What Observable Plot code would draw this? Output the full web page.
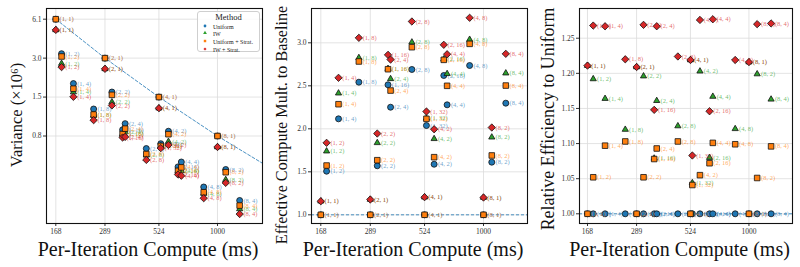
<!DOCTYPE html>
<html>
<head>
<meta charset="utf-8">
<script src="https://cdn.jsdelivr.net/npm/d3@7"></script>
<script src="https://cdn.jsdelivr.net/npm/@observablehq/plot@0.6"></script>
<style>
  body { margin: 0; background: #fff; }
  #fig { position: relative; width: 800px; height: 267px; overflow: hidden; font-family: "Liberation Serif", "Times New Roman", serif; }
  #fig > svg { position: absolute; top: 0; }
  .legend { position: absolute; box-sizing: border-box; border: 1px solid #cfcfcf; border-radius: 3px; background: rgba(255,255,255,0.85); font-family: "Liberation Serif", serif; color: #222; }
  .legend .title { text-align: center; font-size: 8.5px; line-height: 9px; margin-top: 1px; }
  .legend .item { position: absolute; left: 0; font-size: 6px; line-height: 6px; white-space: nowrap; }
  .legend svg { position: absolute; }
</style>
</head>
<body>
<div id="fig"></div>
<script>
// Training configurations (a, b) and their per-iteration compute in ms
const configA = [1, 1, 1, 1, 1, 1, 2, 2, 2, 2, 2, 4, 4, 4, 4, 8, 8, 8];
const configB = [1, 2, 4, 8, 16, 32, 1, 2, 4, 8, 16, 1, 2, 4, 8, 1, 2, 4];
const computeMs = [168, 179, 204, 255, 351, 535, 289, 312, 361, 456, 647, 524, 582, 671, 859, 1000, 1095, 1277];

const methods = ["Uniform", "IW", "Uniform + Strat.", "IW + Strat."];
const methodColors = ["#1f77b4", "#2ca02c", "#ff7f0e", "#d62728"];
const methodSymbols = ["circle", "triangle", "square", "diamond2"];
const methodRadius = [3.0, 2.3, 3.15, 3.3];

// Variance (x10^6)
const varUniform      = [6.10, 3.30, 1.94, 1.233, 0.852, 0.665, 3.05, 1.668, 0.950, 0.610, 0.440, 1.525, 0.830, 0.480, 0.3075, 0.7625, 0.420, 0.242];
const varIW           = [5.04, 2.77, 1.667, 1.101, 0.790, 0.638, 2.52, 1.395, 0.818, 0.542, 0.407, 1.251, 0.690, 0.411, 0.274, 0.627, 0.350, 0.208];
const varUniformStrat = [6.10, 3.14, 1.77, 1.118, 0.790, 0.639, 3.05, 1.586, 0.869, 0.553, 0.410, 1.525, 0.787, 0.436, 0.280, 0.7625, 0.400, 0.221];
const varIWStrat      = [5.04, 2.60, 1.531, 1.011, 0.742, 0.614, 2.52, 1.314, 0.750, 0.498, 0.384, 1.251, 0.650, 0.376, 0.252, 0.627, 0.331, 0.190];

// Baseline scaling of variance with compute (dashed reference)
const baselineCompute  = [168, 289, 524, 1000, 1640];
const baselineVariance = [6.10, 3.05, 1.525, 0.7625, 0.47];

// Effective compute multiplier relative to the baseline
const multUniform      = [1.00, 1.507, 2.116, 2.542, 2.512, 2.038, 1.00, 1.570, 2.251, 2.690, 2.620, 1.00, 1.588, 2.279, 2.736, 1.00, 1.612, 2.298];
const multIW           = [1.158, 1.740, 2.414, 2.826, 2.700, 2.122, 1.178, 1.837, 2.581, 3.007, 2.810, 1.205, 1.884, 2.640, 3.038, 1.201, 1.902, 2.647];
const multUniformStrat = [1.00, 1.573, 2.286, 2.783, 2.693, 2.116, 1.00, 1.635, 2.445, 2.949, 2.802, 1.00, 1.670, 2.500, 2.988, 1.00, 1.690, 2.503];
const multIWStrat      = [1.158, 1.837, 2.593, 3.058, 2.860, 2.201, 1.178, 1.945, 2.805, 3.248, 2.977, 1.205, 1.995, 2.867, 3.291, 1.201, 2.015, 2.872];

// Efficiency relative to uniform sampling
const effUniform      = [1, 1, 1, 1, 1, 1, 1, 1, 1, 1, 1, 1, 1, 1, 1, 1, 1, 1];
const effIW           = [1.211, 1.192, 1.164, 1.120, 1.079, 1.044, 1.209, 1.196, 1.161, 1.125, 1.080, 1.219, 1.203, 1.167, 1.121, 1.216, 1.199, 1.163];
const effUniformStrat = [1.00, 1.052, 1.097, 1.103, 1.078, 1.041, 1.00, 1.052, 1.093, 1.103, 1.072, 1.00, 1.055, 1.101, 1.099, 1.00, 1.051, 1.096];
const effIWStrat      = [1.211, 1.268, 1.267, 1.220, 1.148, 1.083, 1.209, 1.269, 1.267, 1.224, 1.146, 1.219, 1.276, 1.277, 1.219, 1.216, 1.270, 1.271];

// Axis ticks
const xTicks = [168, 289, 524, 1000];
const xTickLabels = ["168", "289", "524", "1000"];
const varTicks = [6.1, 3.05, 1.525, 0.7625];
const varTickLabels = ["6.1", "3.0", "1.5", "0.8"];
const multTicks = [1.0, 1.5, 2.0, 2.5, 3.0];
const multTickLabels = ["1.0", "1.5", "2.0", "2.5", "3.0"];
const effTicks = [1.00, 1.05, 1.10, 1.15, 1.20, 1.25];
const effTickLabels = ["1.00", "1.05", "1.10", "1.15", "1.20", "1.25"];

const xTitle = "Per-Iteration Compute (ms)";

function toRows(series) {
  const out = [];
  series.forEach((vals, k) => {
    vals.forEach((v, i) => out.push({
      k, compute: computeMs[i], value: v, label: `(${configA[i]}, ${configB[i]})`
    }));
  });
  return out;
}

// Tick label lookup: the nearest listed tick (relative distance)
function labeler(ticks, labels) {
  return (v) => {
    let best = 0, bestErr = Infinity;
    ticks.forEach((t, i) => {
      const err = Math.abs(t - v) / Math.abs(t);
      if (err < bestErr) { bestErr = err; best = i; }
    });
    return bestErr < 1e-3 ? labels[best] : "";
  };
}

function panel({left, width, marginLeft, marginRight, xDomain, yType, yDomain, yTicks, yTickLabels, series, yTitle, yTitleSize, yTitleDx, yTitleDy, extra}) {
  const data = toRows(series);
  const marks = [
    Plot.ruleX(xTicks, {stroke: "#dcdcdc", strokeWidth: 0.8}),
    Plot.ruleY(yTicks, {stroke: "#dcdcdc", strokeWidth: 0.8}),
    ...extra
  ];
  methods.forEach((m, k) => {
    const rows = data.filter((d) => d.k === k);
    marks.push(Plot.dot(rows, {
      x: "compute", y: "value", symbol: () => methodSymbols[k], r: methodRadius[k],
      fill: methodColors[k], stroke: "#111", strokeWidth: 0.8
    }));
    marks.push(Plot.text(rows, {
      x: "compute", y: "value", text: "label", dx: 3.8, textAnchor: "start",
      fill: methodColors[k], fillOpacity: 0.7, fontSize: 6.5
    }));
  });
  marks.push(Plot.frame({stroke: "#111", strokeWidth: 1.1}));
  // y tick labels
  marks.push(Plot.text(yTicks, {
    y: (d) => d, frameAnchor: "left", dx: -5, textAnchor: "end",
    text: (d, i) => yTickLabels[i], fontSize: 7.5, fill: "#333"
  }));
  marks.push(Plot.text([xTitle], {
    text: (d) => d, frameAnchor: "bottom", dy: 32, dx: -6.5, lineAnchor: "bottom",
    textAnchor: "middle", fontSize: 20, fill: "#111"
  }));
  marks.push(Plot.text([yTitle], {
    text: (d) => d, frameAnchor: "left", rotate: -90, dx: yTitleDx, dy: yTitleDy, lineAnchor: "middle",
    textAnchor: "middle", fontSize: yTitleSize, fill: "#111"
  }));
  const svg = Plot.plot({
    width, height: 267,
    marginLeft, marginRight, marginTop: 8, marginBottom: 44,
    style: {fontFamily: "Liberation Serif, serif", fontSize: "7.5px", color: "#333", background: "transparent", overflow: "visible"},
    x: {type: "log", domain: xDomain, ticks: xTicks, tickFormat: labeler(xTicks, xTickLabels), tickSize: 3, tickPadding: 2, label: null},
    y: {type: yType, domain: yDomain, ticks: yTicks, tickFormat: () => "", tickSize: 3, tickPadding: 2, label: null},
    marks
  });
  svg.style.left = left + "px";
  return svg;
}

const fig = document.getElementById("fig");

fig.appendChild(panel({
  left: 0, width: 266, marginLeft: 46, marginRight: 4,
  xDomain: [151.6, 1643], yType: "log", yDomain: [0.1606, 7.38],
  yTicks: varTicks, yTickLabels: varTickLabels,
  series: [varUniform, varIW, varUniformStrat, varIWStrat],
  yTitle: "Variance (×10⁶)", yTitleSize: 16.5, yTitleDx: -30, yTitleDy: -1,
  extra: [Plot.line(baselineCompute.map((c, i) => ({c, v: baselineVariance[i]})), {
    x: "c", y: "v", stroke: "#1f77b4", strokeWidth: 1, strokeOpacity: 0.8, strokeDasharray: "3,2"
  })]
}));

fig.appendChild(panel({
  left: 265, width: 265, marginLeft: 46, marginRight: 3,
  xDomain: [151.7, 1620], yType: "linear", yDomain: [0.899, 3.399],
  yTicks: multTicks, yTickLabels: multTickLabels,
  series: [multUniform, multIW, multUniformStrat, multIWStrat],
  yTitle: "Effective Compute Mult. to Baseline", yTitleSize: 16.2, yTitleDx: -29.7, yTitleDy: 9,
  extra: [Plot.ruleY([1], {stroke: "#1f77b4", strokeWidth: 1, strokeOpacity: 0.8, strokeDasharray: "3,2"})]
}));

fig.appendChild(panel({
  left: 530, width: 270, marginLeft: 49, marginRight: 8,
  xDomain: [153.8, 1618], yType: "linear", yDomain: [0.9862, 1.2923],
  yTicks: effTicks, yTickLabels: effTickLabels,
  series: [effUniform, effIW, effUniformStrat, effIWStrat],
  yTitle: "Relative Efficiency to Uniform", yTitleSize: 17.9, yTitleDx: -31, yTitleDy: 3,
  extra: [Plot.ruleY([1], {stroke: "#1f77b4", strokeWidth: 1, strokeOpacity: 0.8, strokeDasharray: "3,2"})]
}));

// Legend for the methods
const legend = document.createElement("div");
legend.className = "legend";
Object.assign(legend.style, {left: "197px", top: "11px", width: "63px", height: "41px"});
const title = document.createElement("div");
title.className = "title";
title.textContent = "Method";
legend.appendChild(title);
methods.forEach((m, k) => {
  const top = 11.5 + k * 7.7;
  const sym = d3.symbol(d3[{circle: "symbolCircle", triangle: "symbolTriangle", square: "symbolSquare", diamond2: "symbolDiamond2"}[methodSymbols[k]]], 6)();
  const s = d3.create("svg").attr("width", 6).attr("height", 6)
    .style("left", "4px").style("top", (top - 1) + "px");
  s.append("path").attr("d", sym).attr("transform", "translate(3,3)").attr("fill", methodColors[k]);
  legend.appendChild(s.node());
  const item = document.createElement("div");
  item.className = "item";
  item.style.left = "15px";
  item.style.top = top + "px";
  item.textContent = m;
  legend.appendChild(item);
});
fig.appendChild(legend);
</script>
</body>
</html>
